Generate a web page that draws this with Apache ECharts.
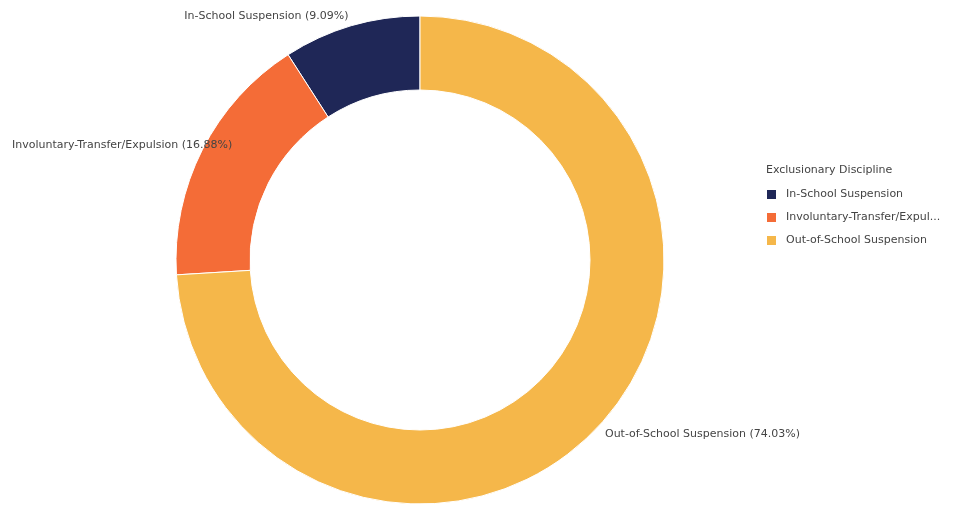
<!DOCTYPE html>
<html>
<head>
<meta charset="utf-8">
<script src="https://cdn.jsdelivr.net/npm/echarts@6/dist/echarts.min.js"></script>
<style>
  html, body { margin: 0; padding: 0; background: #fff; }
  #chart { width: 954px; height: 508px; }
</style>
</head>
<body>
<div id="chart"></div>
<script>
// Exclusionary discipline breakdown
var categories = ['In-School Suspension', 'Involuntary-Transfer/Expulsion', 'Out-of-School Suspension'];
var shares = [9.09, 16.88, 74.03];
var colors = ['#1f2757', '#f46c37', '#f5b74a'];
var legendTitle = 'Exclusionary Discipline';

var FONT = '"DejaVu Sans", sans-serif';

var chart = echarts.init(document.getElementById('chart'), null, { renderer: 'canvas' });

var data = categories.map(function (name, i) {
  return { name: name, value: shares[i], itemStyle: { color: colors[i] } };
});

chart.setOption({
  animation: false,
  title: {
    text: legendTitle,
    left: 761,
    top: 160,
    textStyle: { fontFamily: FONT, fontSize: 11, fontWeight: 'normal', color: '#444' }
  },
  legend: {
    orient: 'vertical',
    left: 760,
    top: 183,
    itemWidth: 11,
    itemHeight: 11,
    itemGap: 10,
    icon: 'rect',
    data: categories,
    textStyle: {
      fontFamily: FONT, fontSize: 11, color: '#444',
      padding: [0, 0, 0, 4],
      width: 160, overflow: 'truncate', ellipsis: '...'
    }
  },
  series: [{
    type: 'pie',
    center: [420, 260],
    radius: [170, 244],
    startAngle: 90,
    clockwise: false,
    avoidLabelOverlap: false,
    itemStyle: { borderColor: '#fff', borderWidth: 1 },
    label: {
      show: true,
      position: 'outside',
      fontFamily: FONT,
      fontSize: 11,
      color: '#444',
      overflow: 'none',
      distanceToLabelLine: 0,
      formatter: function (p) { return p.name + ' (' + p.value.toFixed(2) + '%)'; }
    },
    labelLine: { show: false, length: 10, length2: 0 },
    labelLayout: function (p) {
      // keep labels inside the left edge of the canvas
      var r = p.labelRect;
      if (r.x < 12) {
        return { x: 12, align: 'left' };
      }
    },
    data: data
  }]
});
</script>
</body>
</html>
